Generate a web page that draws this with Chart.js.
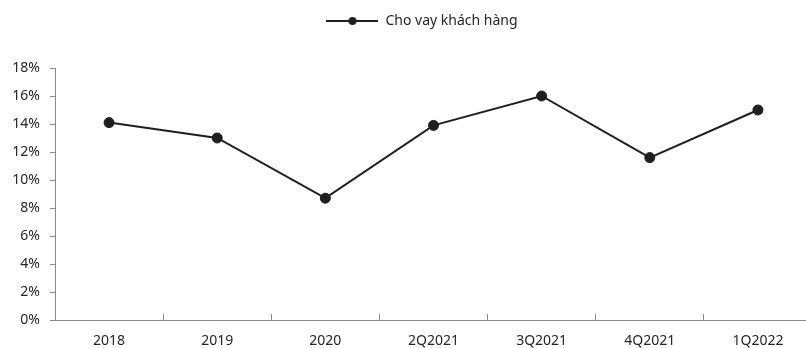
<!DOCTYPE html>
<html>
<head>
<meta charset="utf-8">
<script src="https://cdn.jsdelivr.net/npm/chart.js@4.4.0/dist/chart.umd.min.js"></script>
<style>
  html, body { margin: 0; padding: 0; background: #fff; overflow: hidden; width: 806px; height: 348px; }
  #wrap { position: absolute; left: 0; top: 0; width: 820px; height: 348px; }
</style>
</head>
<body>
<div id="wrap"><canvas id="c" width="820" height="348"></canvas></div>
<script>
// Tăng trưởng cho vay khách hàng theo kỳ (%)
const categories = ['2018', '2019', '2020', '2Q2021', '3Q2021', '4Q2021', '1Q2022'];
const loanGrowth = [14.1, 13.0, 8.7, 13.9, 16.0, 11.6, 15.0];
const yTickValues = [0, 2, 4, 6, 8, 10, 12, 14, 16, 18];
const seriesName = 'Cho vay khách hàng';

const TEXT = '#262626';
const AXIS = '#8a8a8a';
const LINE = '#1f1f1f';
const FONT = { family: '"Noto Sans", "Open Sans", sans-serif', size: 14 };

// Legend marker: a short line with a dot in the middle
const legendMark = document.createElement('canvas');
legendMark.width = 52;
legendMark.height = 12;
(function () {
  const g = legendMark.getContext('2d');
  g.strokeStyle = LINE;
  g.lineWidth = 2;
  g.beginPath();
  g.moveTo(0, 6);
  g.lineTo(52, 6);
  g.stroke();
  g.fillStyle = LINE;
  g.beginPath();
  g.arc(26, 6, 4, 0, Math.PI * 2);
  g.fill();
})();

// Legend block: taller than its row (space before the plot) and
// centred over the span that starts at the plot's left margin
const legendBlock = {
  id: 'legendBlock',
  afterInit(chart) {
    const legend = chart.legend;
    if (!legend) return;
    const fit = legend.fit;
    legend.fit = function () {
      fit.call(this);
      this.height = 64;
    };
  },
  afterLayout(chart) {
    const legend = chart.legend;
    if (!legend) return;
    legend.left = 32;
    legend.right = chart.chartArea.right;
    legend.width = legend.right - legend.left;
  }
};

new Chart(document.getElementById('c'), {
  type: 'line',
  data: {
    labels: categories,
    datasets: [{
      label: seriesName,
      data: loanGrowth,
      borderColor: LINE,
      backgroundColor: LINE,
      borderWidth: 2,
      pointRadius: 5,
      pointBorderWidth: 1,
      pointBackgroundColor: LINE,
      pointBorderColor: LINE,
      tension: 0,
      fill: false
    }]
  },
  options: {
    responsive: false,
    animation: false,
    layout: { padding: { left: 0, right: 8, top: 4, bottom: 0 } },
    plugins: {
      legend: {
        display: true,
        position: 'top',
        align: 'center',
        labels: {
          usePointStyle: true,
          pointStyle: legendMark,
          pointStyleWidth: 52,
          boxHeight: 12,
          padding: 10,
          color: TEXT,
          font: FONT
        }
      },
      tooltip: { enabled: false }
    },
    scales: {
      x: {
        type: 'category',
        offset: true,
        grid: {
          offset: true,
          drawOnChartArea: false,
          drawTicks: true,
          tickLength: -6,
          color: AXIS,
          lineWidth: 1
        },
        border: { display: true, color: AXIS, width: 1 },
        ticks: { color: TEXT, font: FONT, padding: 19, maxRotation: 0, autoSkip: false },
        afterFit(scale) { scale.height = 28; }
      },
      y: {
        min: 0,
        max: 18,
        grid: {
          drawOnChartArea: false,
          drawTicks: true,
          tickLength: 5,
          color: AXIS,
          lineWidth: 1
        },
        border: { display: true, color: AXIS, width: 1 },
        ticks: {
          color: TEXT,
          font: FONT,
          padding: 10,
          callback: (v) => v + '%'
        },
        afterBuildTicks(scale) {
          scale.ticks = yTickValues.map((v) => ({ value: v }));
        },
        afterFit(scale) { scale.width = 55; }
      }
    }
  },
  plugins: [legendBlock]
});
</script>
</body>
</html>
